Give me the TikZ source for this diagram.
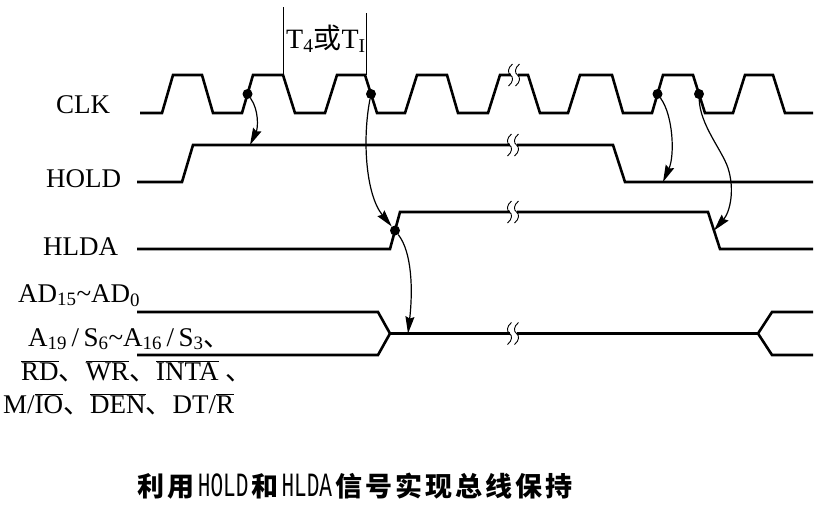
\documentclass[tikz,border=0pt]{standalone}
\usepackage{fontspec}
\setmainfont{Liberation Serif}
\newfontfamily\cjk{Noto Sans CJK SC}
\newfontfamily\titlelat[FakeStretch=0.62]{Liberation Mono}
\usetikzlibrary{arrows.meta}
\newcommand\ovl[1]{\ensuremath{\overline{\mbox{#1}}}}
\newcommand\tk{\kern3pt}
\begin{document}
\begin{tikzpicture}[x=1pt,y=-1pt,
  wave/.style={line width=2.6pt, line join=miter},
  arr/.style={line width=1.2pt, -{Stealth[length=17pt,width=9pt,inset=2pt]}},
  dot/.style={circle, fill=black, minimum size=10pt, inner sep=0pt},
  lbl/.style={anchor=base west, inner sep=0pt, font=\fontsize{27}{30}\selectfont},
  marker/.style={line width=0.9pt},
  brk/.pic={
    \fill[white] (-3.5,-5) rectangle (3.5,5);
    \draw[line width=0.9pt] (-1.5,-11) .. controls (-6.5,-7) and (-6.5,-2) .. (-3.5,0) .. controls (-0.5,2) and (-0.5,7) .. (-5.5,11);
    \draw[line width=0.9pt] (5.5,-11) .. controls (0.5,-7) and (0.5,-2) .. (3.5,0) .. controls (6.5,2) and (6.5,7) .. (1.5,11);
  }]
\useasboundingbox (0,0) rectangle (823,512);

% CLK
\draw[wave] (140,113) -- (162,113) -- (173,75) -- (202,75) -- (213,113) -- (242,113) -- (253,75) -- (283,75) -- (295,113) -- (325,113) -- (337,75) -- (365,75) -- (377,113) -- (405,113) -- (417,75) -- (447,75) -- (458,113) -- (488,113) -- (500,75) -- (528,75) -- (540,113) -- (568,113) -- (580,75) -- (612,75) -- (623,113) -- (652,113) -- (663,75) -- (693,75) -- (705,113) -- (733,113) -- (745,75) -- (773,75) -- (785,113) -- (813,113);
\pic at (514,75) {brk};

% T4 or TI markers
\draw[marker] (283,7) -- (283,75);
\draw[marker] (366,13) -- (366,75);
\node[lbl, font=\fontsize{28}{30}\selectfont] (tl) at (286,48) {T\textsubscript{4}{\cjk 或}T\textsubscript{I}};

% HOLD
\draw[wave] (137,182) -- (182,182) -- (193,145) -- (613,145) -- (625,182) -- (813,182);
\pic at (513,145) {brk};

% HLDA
\draw[wave] (137,249) -- (390,249) -- (400,212) -- (708,212) -- (720,249) -- (813,249);
\pic at (513,212) {brk};

% Bus
\draw[wave] (137,312) -- (378,312) -- (390,333.5) -- (758,333.5) -- (772,312) -- (813,312);
\draw[wave] (137,355) -- (378,355) -- (390,333.5);
\draw[wave] (758,333.5) -- (772,355) -- (813,355);
\pic at (513,333.5) {brk};

% dots
\node[dot] (c1) at (247.5,94) {};
\node[dot] (c2) at (371,94) {};
\node[dot] (c3) at (657.5,94) {};
\node[dot] (c4) at (699,94) {};
\node[dot] (d) at (395,230.5) {};
\coordinate (h1) at (250,145);
\coordinate (h2) at (663,182);
\coordinate (l2) at (714,230.5);
\coordinate (b1) at (408,333.5);

% arrows
\draw[arr] (c1) .. controls (259,110) and (258,128) .. (h1);
\draw[arr] (c2) .. controls (362,140) and (366,195) .. (d);
\draw[arr] (d) .. controls (412,252) and (413,290) .. (b1);
\draw[arr] (c3) .. controls (673,115) and (675,155) .. (h2);
\draw[arr] (c4) .. controls (700,125) and (722,150) .. (728,168) .. controls (735,190) and (730,212) .. (l2);

% labels
\node[lbl] (clk) at (56,113) {CLK};
\node[lbl] (hold) at (46,187) {HOLD};
\node[lbl] (hlda) at (43,255) {HLDA};
\node[lbl] (ad) at (18,302) {AD\textsubscript{15}\textasciitilde AD\textsubscript{0}};
\node[lbl] (as) at (28,346) {A\textsubscript{19}\,/\,S\textsubscript{6}\textasciitilde A\textsubscript{16}\,/\,S\textsubscript{3}{\cjk 、}};
\node[lbl] (rd) at (21,380) {\ovl{RD}{\cjk 、}\ovl{WR}{\cjk 、}\ovl{INTA}\ {\cjk 、}};
\node[lbl] (mio) at (3,413) {M/\ovl{IO}{\cjk 、}\ovl{DEN}{\cjk 、}DT/\ovl{R}};

% title
\node[anchor=base, inner sep=0pt, font=\fontsize{27}{30}\selectfont] (title) at (355,496)
  {\cjk\bfseries 利\tk 用\tk{\fontsize{34}{30}\selectfont\mdseries\titlelat HOLD}\tk 和\tk{\fontsize{34}{30}\selectfont\mdseries\titlelat HLDA}\tk 信\tk 号\tk 实\tk 现\tk 总\tk 线\tk 保\tk 持};
\end{tikzpicture}
\end{document}
